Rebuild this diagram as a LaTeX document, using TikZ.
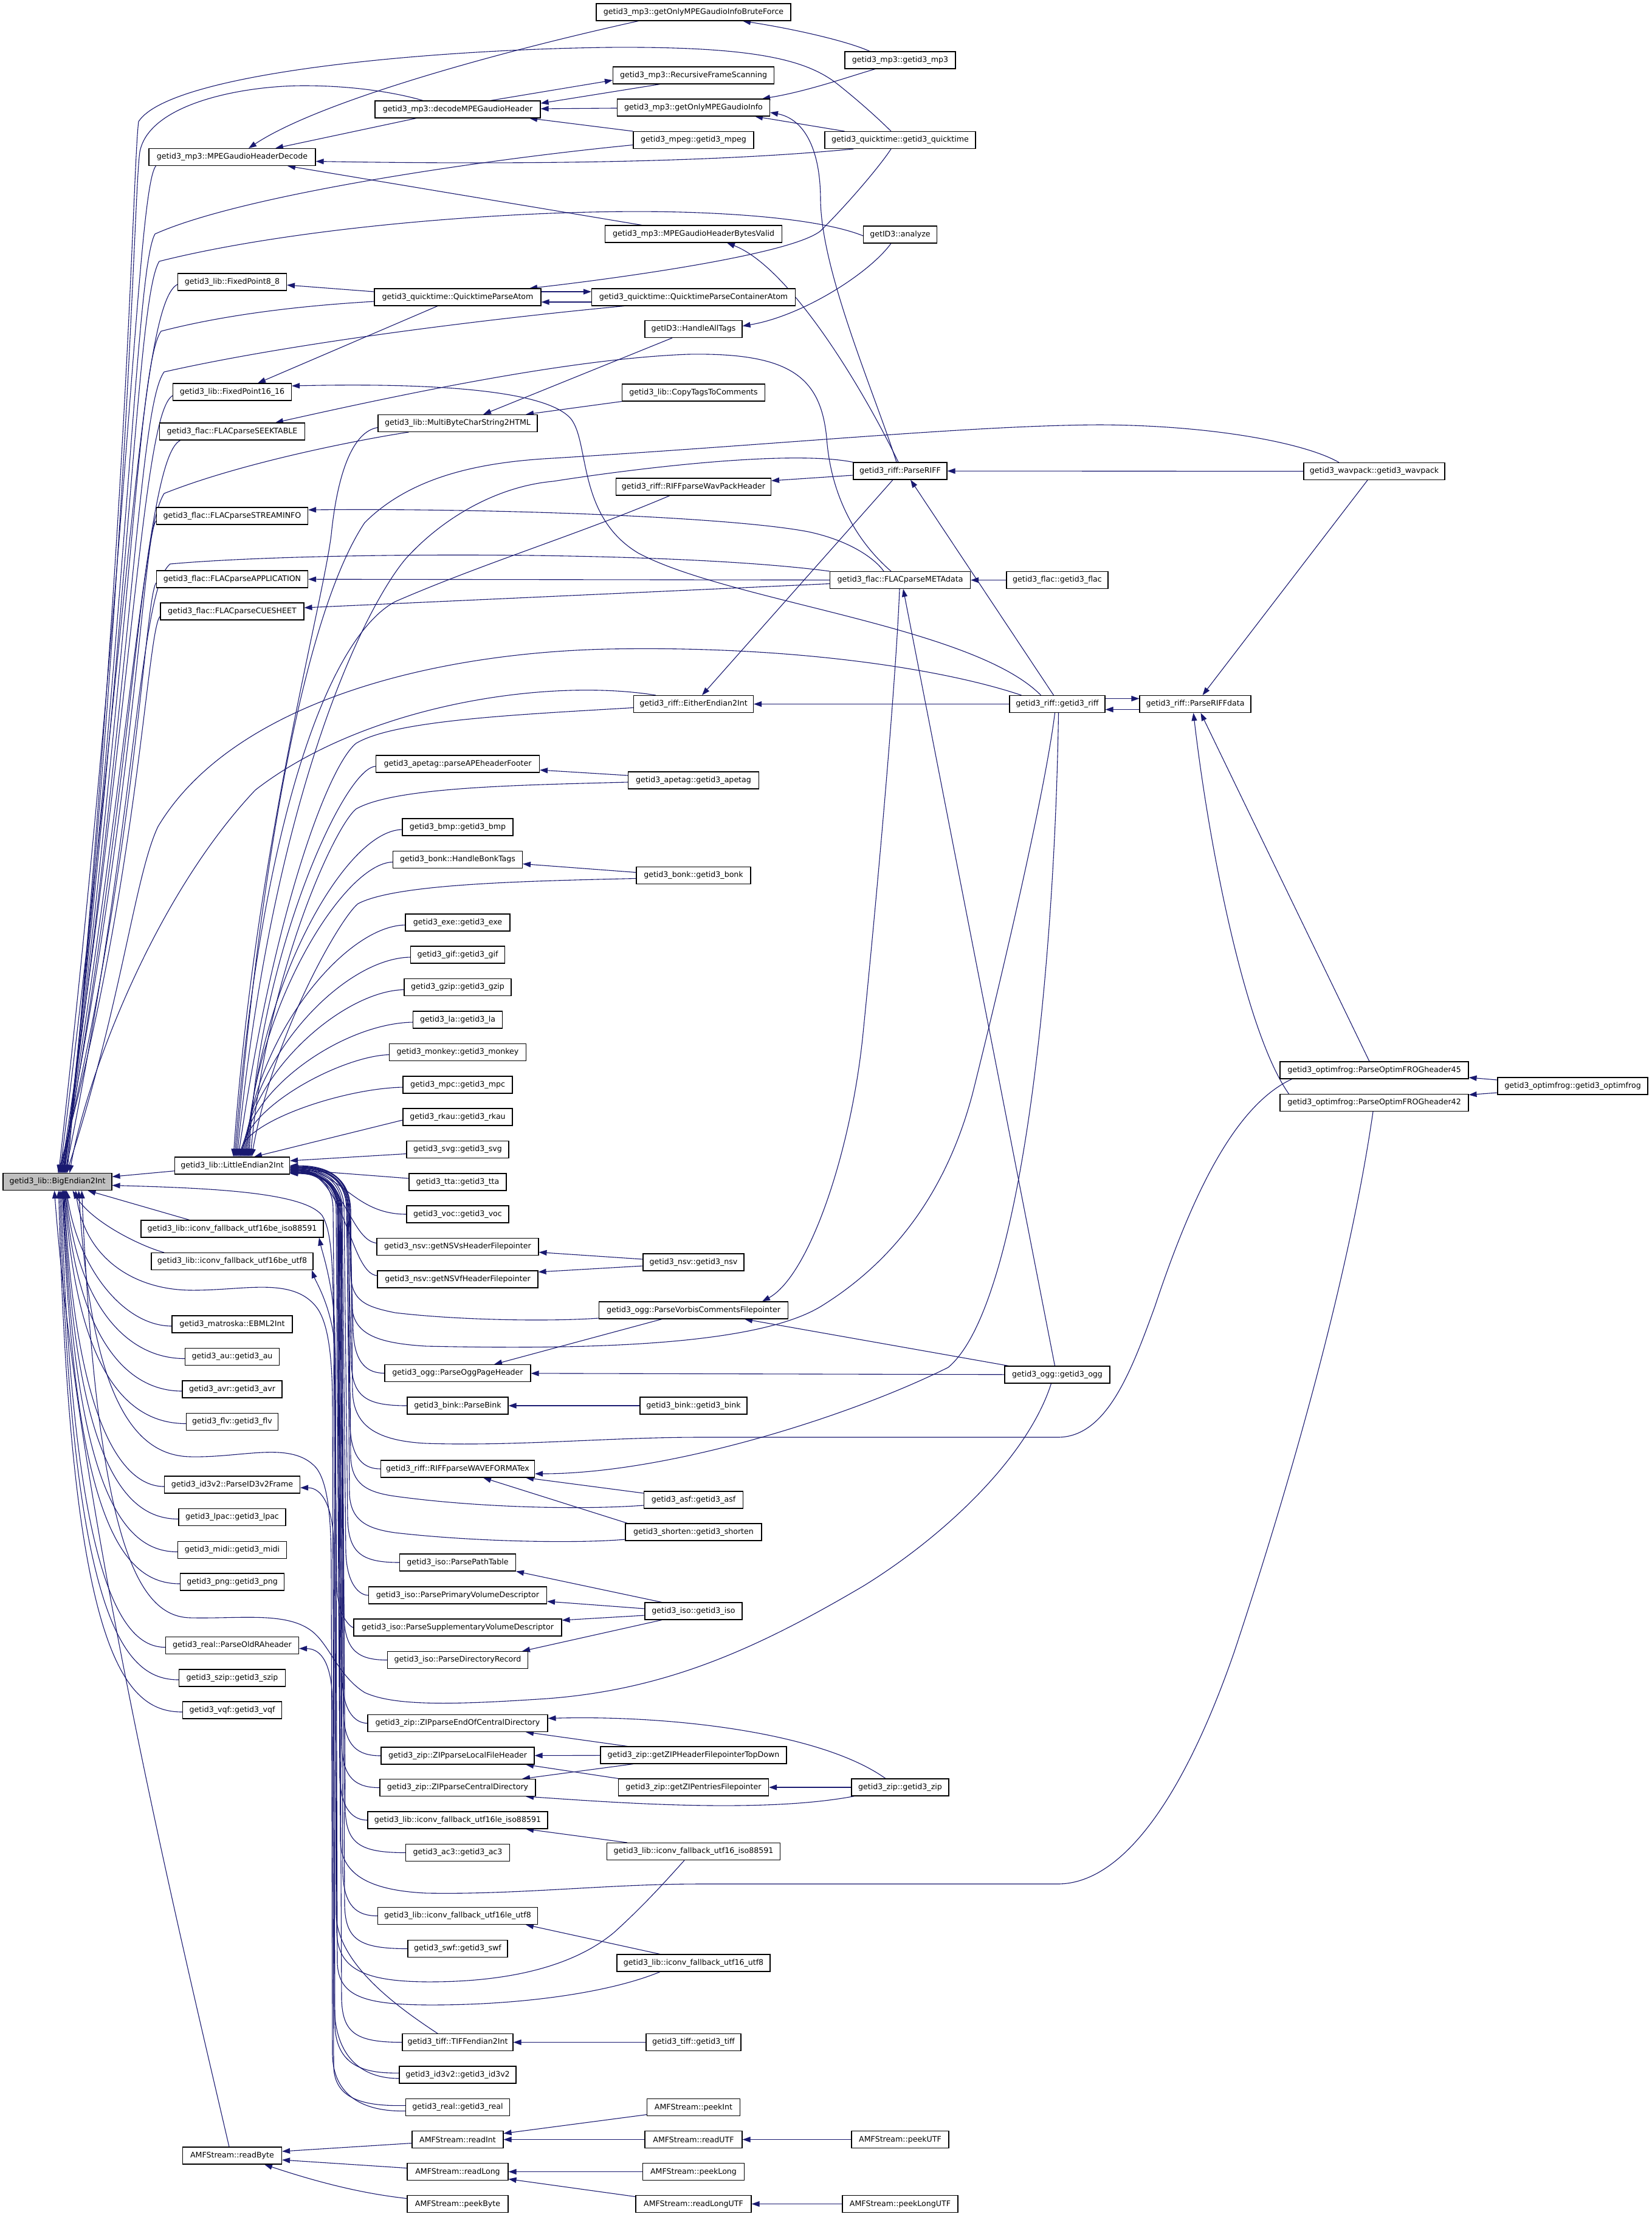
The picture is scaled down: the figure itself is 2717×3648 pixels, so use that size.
\documentclass[tikz,border=0pt]{standalone}
\usepackage{fontspec}
\newfontfamily\dvs{DejaVu Sans}
\usetikzlibrary{arrows.meta}
\definecolor{mblue}{RGB}{25,25,112}
\definecolor{gfill}{RGB}{191,191,191}
\pgfdeclarelayer{bg}
\pgfsetlayers{bg,main}
\tikzset{
  nd/.style={draw=black, line width=1.1pt, fill=white, rectangle, minimum height=28pt, inner sep=0pt, font=\dvs\fontsize{12.6}{15}\selectfont},
  edg/.style={draw=mblue, line width=1.1pt, arrows={Triangle[length=13pt,width=9pt]-}},
}
\newcommand{\LUp}[3]{\draw[edg] ([xshift=#3pt]little.north) .. controls ({395+#3},{(#2+1904)/2}) and (565,{#2+6}) .. ([yshift=-4pt]#1.west);}
\newcommand{\LDn}[4]{\draw[edg] ([yshift=#4pt]little.east) .. controls ({#3-30},{1918-(#4)}) and (#3,{1940-(#4)}) .. (#3,1990) -- ({#3+6},{#2-70}) .. controls ({#3+8},{#2-15}) and ({#3+30},#2) .. (#1.west);}
\newcommand{\BDn}[3]{\draw[edg] ([xshift=#3pt]big.south) .. controls ({114+#3},{#2-90}) and (205,{#2+3}) .. ([yshift=-3pt]#1.west);}
\begin{document}
\begin{tikzpicture}[x=1pt,y=-1pt]
\useasboundingbox (0,0) rectangle (2717,3648);
% rank 0
\node[nd, fill=gfill, minimum width=179pt] (big) at (94.5,1944.5) {getid3\_lib::BigEndian2Int};
% rank 1
\node[nd, minimum width=274pt] (mhd) at (382,258.5) {getid3\_mp3::MPEGaudioHeaderDecode};
\node[nd, minimum width=179pt] (fp8) at (382,464) {getid3\_lib::FixedPoint8\_8};
\node[nd, minimum width=195pt] (fp16) at (382,645) {getid3\_lib::FixedPoint16\_16};
\node[nd, minimum width=239pt] (seek) at (382,710) {getid3\_flac::FLACparseSEEKTABLE};
\node[nd, minimum width=249pt] (stream) at (382,849) {getid3\_flac::FLACparseSTREAMINFO};
\node[nd, minimum width=249pt] (app) at (382,953) {getid3\_flac::FLACparseAPPLICATION};
\node[nd, minimum width=236pt] (cue) at (382,1006) {getid3\_flac::FLACparseCUESHEET};
\node[nd, minimum width=189pt] (little) at (382,1918) {getid3\_lib::LittleEndian2Int};
\node[nd, minimum width=300pt] (ic16bi) at (382,2022) {getid3\_lib::iconv\_fallback\_utf16be\_iso88591};
\node[nd, minimum width=266pt] (ic16bu) at (382,2075.5) {getid3\_lib::iconv\_fallback\_utf16be\_utf8};
\node[nd, minimum width=198pt] (ebml) at (382,2179) {getid3\_matroska::EBML2Int};
\node[nd, minimum width=155pt] (au) at (382,2232.5) {getid3\_au::getid3\_au};
\node[nd, minimum width=164pt] (avr) at (382,2286) {getid3\_avr::getid3\_avr};
\node[nd, minimum width=151pt] (flv) at (382,2339.5) {getid3\_flv::getid3\_flv};
\node[nd, minimum width=223pt] (id3f) at (382,2443) {getid3\_id3v2::ParseID3v2Frame};
\node[nd, minimum width=176pt] (lpac) at (382,2496.5) {getid3\_lpac::getid3\_lpac};
\node[nd, minimum width=179pt] (midi) at (382,2550.5) {getid3\_midi::getid3\_midi};
\node[nd, minimum width=171pt] (png) at (382,2603) {getid3\_png::getid3\_png};
\node[nd, minimum width=219pt] (ra) at (382,2707.5) {getid3\_real::ParseOldRAheader};
\node[nd, minimum width=175pt] (szip) at (382,2761) {getid3\_szip::getid3\_szip};
\node[nd, minimum width=163pt] (vqf) at (382,2814) {getid3\_vqf::getid3\_vqf};
\node[nd, minimum width=163pt] (rbyte) at (382,3547) {AMFStream::readByte};
% rank 2
\node[nd, minimum width=272pt] (dec) at (753,180) {getid3\_mp3::decodeMPEGaudioHeader};
\node[nd, minimum width=274pt] (qpa) at (753,489) {getid3\_quicktime::QuicktimeParseAtom};
\node[nd, minimum width=262pt] (mb) at (753,696.5) {getid3\_lib::MultiByteCharString2HTML};
\node[nd, minimum width=269pt] (apef) at (753,1257) {getid3\_apetag::parseAPEheaderFooter};
\node[nd, minimum width=182pt] (bmp) at (753,1361) {getid3\_bmp::getid3\_bmp};
\node[nd, minimum width=213pt] (hbt) at (753,1414.5) {getid3\_bonk::HandleBonkTags};
\node[nd, minimum width=172pt] (exe) at (753,1518) {getid3\_exe::getid3\_exe};
\node[nd, minimum width=155pt] (gif) at (753,1571) {getid3\_gif::getid3\_gif};
\node[nd, minimum width=176pt] (gzip) at (753,1624.5) {getid3\_gzip::getid3\_gzip};
\node[nd, minimum width=147pt] (la) at (753,1678) {getid3\_la::getid3\_la};
\node[nd, minimum width=225pt] (monkey) at (753,1731.5) {getid3\_monkey::getid3\_monkey};
\node[nd, minimum width=180pt] (mpc) at (753,1785) {getid3\_mpc::getid3\_mpc};
\node[nd, minimum width=180pt] (rkau) at (753,1838) {getid3\_rkau::getid3\_rkau};
\node[nd, minimum width=168pt] (svg) at (753,1891.5) {getid3\_svg::getid3\_svg};
\node[nd, minimum width=160pt] (tta) at (753,1945) {getid3\_tta::getid3\_tta};
\node[nd, minimum width=168pt] (voc) at (753,1998) {getid3\_voc::getid3\_voc};
\node[nd, minimum width=266pt] (nsvs) at (753,2051.5) {getid3\_nsv::getNSVsHeaderFilepointer};
\node[nd, minimum width=264pt] (nsvf) at (753,2105) {getid3\_nsv::getNSVfHeaderFilepointer};
\node[nd, minimum width=240pt] (oggp) at (753,2259.5) {getid3\_ogg::ParseOggPageHeader};
\node[nd, minimum width=166pt] (bink) at (753,2313) {getid3\_bink::ParseBink};
\node[nd, minimum width=253pt] (wfx) at (753,2417) {getid3\_riff::RIFFparseWAVEFORMATex};
\node[nd, minimum width=191pt] (ppt) at (753,2571) {getid3\_iso::ParsePathTable};
\node[nd, minimum width=293pt] (ppvd) at (753,2625) {getid3\_iso::ParsePrimaryVolumeDescriptor};
\node[nd, minimum width=342pt] (psvd) at (753,2678) {getid3\_iso::ParseSupplementaryVolumeDescriptor};
\node[nd, minimum width=231pt] (pdr) at (753,2731.5) {getid3\_iso::ParseDirectoryRecord};
\node[nd, minimum width=296pt] (zeocd) at (753,2835.5) {getid3\_zip::ZIPparseEndOfCentralDirectory};
\node[nd, minimum width=252pt] (zlfh) at (753,2889) {getid3\_zip::ZIPparseLocalFileHeader};
\node[nd, minimum width=256pt] (zcd) at (753,2941.5) {getid3\_zip::ZIPparseCentralDirectory};
\node[nd, minimum width=296pt] (ic16li) at (753,2995) {getid3\_lib::iconv\_fallback\_utf16le\_iso88591};
\node[nd, minimum width=171pt] (ac3) at (753,3048.5) {getid3\_ac3::getid3\_ac3};
\node[nd, minimum width=263pt] (ic16lu) at (753,3152.5) {getid3\_lib::iconv\_fallback\_utf16le\_utf8};
\node[nd, minimum width=164pt] (swf) at (753,3206.5) {getid3\_swf::getid3\_swf};
\node[nd, minimum width=182pt] (tiffe) at (753,3360.5) {getid3\_tiff::TIFFendian2Int};
\node[nd, minimum width=192pt] (id3v2) at (753,3414) {getid3\_id3v2::getid3\_id3v2};
\node[nd, minimum width=171pt] (real) at (753,3467.5) {getid3\_real::getid3\_real};
\node[nd, minimum width=150pt] (rint) at (753,3520.5) {AMFStream::readInt};
\node[nd, minimum width=166pt] (rlong) at (753,3573.5) {AMFStream::readLong};
\node[nd, minimum width=166pt] (pbyte) at (753,3626.5) {AMFStream::peekByte};
% rank 3
\node[nd, minimum width=320pt] (brute) at (1141,20) {getid3\_mp3::getOnlyMPEGaudioInfoBruteForce};
\node[nd, minimum width=265pt] (rfs) at (1141,124) {getid3\_mp3::RecursiveFrameScanning};
\node[nd, minimum width=251pt] (gomi) at (1141,177) {getid3\_mp3::getOnlyMPEGaudioInfo};
\node[nd, minimum width=198pt] (mpeg) at (1141,230.5) {getid3\_mpeg::getid3\_mpeg};
\node[nd, minimum width=291pt] (mhbv) at (1141,385) {getid3\_mp3::MPEGaudioHeaderBytesValid};
\node[nd, minimum width=335pt] (qpca) at (1141,489) {getid3\_quicktime::QuicktimeParseContainerAtom};
\node[nd, minimum width=160pt] (hat) at (1141,541.5) {getID3::HandleAllTags};
\node[nd, minimum width=235pt] (ctc) at (1141,646) {getid3\_lib::CopyTagsToComments};
\node[nd, minimum width=255pt] (wvph) at (1141,801) {getid3\_riff::RIFFparseWavPackHeader};
\node[nd, minimum width=197pt] (either) at (1141,1158.5) {getid3\_riff::EitherEndian2Int};
\node[nd, minimum width=215pt] (apetag) at (1141,1284) {getid3\_apetag::getid3\_apetag};
\node[nd, minimum width=188pt] (bonk) at (1141,1440.5) {getid3\_bonk::getid3\_bonk};
\node[nd, minimum width=166pt] (nsv) at (1141,2077) {getid3\_nsv::getid3\_nsv};
\node[nd, minimum width=311pt] (vorbis) at (1141,2156) {getid3\_ogg::ParseVorbisCommentsFilepointer};
\node[nd, minimum width=176pt] (gbink) at (1141,2313) {getid3\_bink::getid3\_bink};
\node[nd, minimum width=163pt] (asf) at (1141,2468) {getid3\_asf::getid3\_asf};
\node[nd, minimum width=224pt] (shorten) at (1141,2521) {getid3\_shorten::getid3\_shorten};
\node[nd, minimum width=160pt] (iso) at (1141,2651) {getid3\_iso::getid3\_iso};
\node[nd, minimum width=306pt] (ztop) at (1141,2888) {getid3\_zip::getZIPHeaderFilepointerTopDown};
\node[nd, minimum width=247pt] (zent) at (1141,2941) {getid3\_zip::getZIPentriesFilepointer};
\node[nd, minimum width=285pt] (ic16i) at (1141,3046.5) {getid3\_lib::iconv\_fallback\_utf16\_iso88591};
\node[nd, minimum width=252pt] (ic16u) at (1141,3230) {getid3\_lib::iconv\_fallback\_utf16\_utf8};
\node[nd, minimum width=156pt] (tiff) at (1141,3360.5) {getid3\_tiff::getid3\_tiff};
\node[nd, minimum width=153pt] (pint) at (1141,3467.5) {AMFStream::peekInt};
\node[nd, minimum width=160pt] (rutf) at (1141,3520.5) {AMFStream::readUTF};
\node[nd, minimum width=167pt] (plong) at (1141,3573.5) {AMFStream::peekLong};
\node[nd, minimum width=190pt] (rlutf) at (1141,3626.5) {AMFStream::readLongUTF};
% rank 4
\node[nd, minimum width=182pt] (mp3) at (1481,99) {getid3\_mp3::getid3\_mp3};
\node[nd, minimum width=248pt] (qt) at (1481,230.5) {getid3\_quicktime::getid3\_quicktime};
\node[nd, minimum width=121pt] (analyze) at (1481,386) {getID3::analyze};
\node[nd, minimum width=154pt] (parseriff) at (1481,775) {getid3\_riff::ParseRIFF};
\node[nd, minimum width=231pt] (meta) at (1481,954.5) {getid3\_flac::FLACparseMETAdata};
\node[nd, minimum width=160pt] (zip) at (1481,2941) {getid3\_zip::getid3\_zip};
\node[nd, minimum width=160pt] (putf) at (1481,3520.5) {AMFStream::peekUTF};
\node[nd, minimum width=190pt] (plutf) at (1481,3626.5) {AMFStream::peekLongUTF};
% rank 5..8
\node[nd, minimum width=167pt] (flac) at (1739.5,954.5) {getid3\_flac::getid3\_flac};
\node[nd, minimum width=157pt] (riff) at (1739.5,1158.5) {getid3\_riff::getid3\_riff};
\node[nd, minimum width=173pt] (ogg) at (1739.5,2262) {getid3\_ogg::getid3\_ogg};
\node[nd, minimum width=183pt] (prd) at (1966.5,1158.5) {getid3\_riff::ParseRIFFdata};
\node[nd, minimum width=232pt] (wavpack) at (2261,775.5) {getid3\_wavpack::getid3\_wavpack};
\node[nd, minimum width=310pt] (of45) at (2261,1761) {getid3\_optimfrog::ParseOptimFROGheader45};
\node[nd, minimum width=310pt] (of42) at (2261,1814.5) {getid3\_optimfrog::ParseOptimFROGheader42};
\node[nd, minimum width=247pt] (optimfrog) at (2587.5,1787) {getid3\_optimfrog::getid3\_optimfrog};

\begin{pgfonlayer}{bg}
% ---- BigEndian2Int, upward fan
\draw[edg] ([xshift=2pt]big.north) .. controls (212,900) and (226,310) .. ([xshift=12pt]mhd.south west);
\draw[edg] ([xshift=4pt]big.north) .. controls (216,1000) and (230,500) .. ([yshift=-4pt]fp8.west);
\draw[edg] ([xshift=6pt]big.north) .. controls (220,1150) and (234,680) .. ([yshift=-6pt]fp16.west);
\draw[edg] ([xshift=7pt]big.north) .. controls (222,1200) and (240,750) .. ([xshift=35pt]seek.south west);
\draw[edg] ([xshift=5pt]big.north) .. controls (224,1300) and (236,880) .. ([yshift=-8pt]stream.west);
\draw[edg] ([xshift=3pt]big.north) .. controls (226,1400) and (238,985) .. ([yshift=-6pt]app.west);
\draw[edg] ([xshift=1pt]big.north) .. controls (228,1450) and (242,1035) .. ([yshift=-8pt]cue.west);
\draw[edg] ([xshift=16pt]big.north) .. controls (214,800) and (218,280) .. (228,200) .. controls (280,120) and (700,82) .. (1000,78) .. controls (1250,76) and (1330,100) .. (1380,140) .. controls (1420,172) and (1450,200) .. ([xshift=-15pt]qt.north);
\draw[edg] ([xshift=14pt]big.north) .. controls (213,900) and (220,320) .. (230,250) .. controls (245,170) and (400,141) .. (500,141) .. controls (580,141) and (650,152) .. ([xshift=-57pt]dec.north);
\draw[edg] ([xshift=12pt]big.north) .. controls (214,950) and (224,440) .. (255,385) .. controls (400,320) and (800,262) .. ([yshift=-8pt]mpeg.west);
\draw[edg] ([xshift=11pt]big.north) .. controls (215,1000) and (225,490) .. (262,430) .. controls (500,370) and (900,340) .. (1150,350) .. controls (1300,356) and (1380,372) .. ([yshift=-2pt]analyze.west);
\draw[edg] ([xshift=10pt]big.north) .. controls (218,1050) and (226,600) .. (265,545) .. controls (400,510) and (550,500) .. ([yshift=-7pt]qpa.west);
\draw[edg] ([xshift=9pt]big.north) .. controls (220,1100) and (228,670) .. (270,612) .. controls (500,560) and (850,520) .. ([xshift=54pt]qpca.south west);
\draw[edg] ([xshift=8pt]big.north) .. controls (222,1250) and (228,880) .. (270,812) .. controls (400,760) and (600,722) .. ([xshift=51pt]mb.south west);
\draw[edg] ([xshift=13pt]big.north) .. controls (225,1350) and (228,970) .. (280,928) .. controls (500,908) and (1100,905) .. (meta.north west);
\draw[edg] ([xshift=15pt]big.north) .. controls (200,1650) and (222,1440) .. (260,1360) .. controls (380,1160) and (700,1075) .. (1000,1068) .. controls (1300,1062) and (1550,1100) .. ([xshift=20pt]riff.north west);
\draw[edg] ([xshift=20pt]big.north) .. controls (140,1780) and (250,1480) .. (420,1300) .. controls (600,1160) and (900,1115) .. ([xshift=37pt]either.north west);
% ---- BigEndian2Int, right and downward
\draw[edg] (big) -- (little);
\draw[edg] ([xshift=50pt]big.south) -- ([xshift=-70pt]ic16bi.north);
\draw[edg] ([xshift=25pt]big.south) .. controls (150,2010) and (230,2050) .. ([xshift=-112pt]ic16bu.north);
\BDn{ebml}{2179}{15}
\BDn{au}{2232.5}{14}
\BDn{avr}{2286}{13}
\BDn{flv}{2339.5}{12}
\BDn{id3f}{2443}{11}
\BDn{lpac}{2496.5}{10}
\BDn{midi}{2550.5}{9}
\BDn{png}{2603}{8}
\BDn{ra}{2707.5}{6}
\BDn{szip}{2761}{4}
\BDn{vqf}{2814}{2}
\draw[edg] ([xshift=-5pt]big.south) .. controls (130,2500) and (300,3200) .. ([xshift=-5pt]rbyte.north);
\draw[edg] ([yshift=-6pt]big.east) .. controls (350,1955) and (500,1962) .. (530,2000) .. controls (545,2025) and (548,2070) .. (549,2200) -- (553,3150) .. controls (555,3230) and (650,3300) .. ([xshift=-33pt]tiffe.north);
\draw[edg] ([xshift=30pt]big.south) .. controls (140,2070) and (220,2122) .. (313,2123) .. controls (400,2124) and (480,2100) .. (520,2150) .. controls (540,2175) and (546,2230) .. (547,2300) -- (550,3300) .. controls (551,3390) and (600,3420) .. ([yshift=-6pt]id3v2.west);
\draw[edg] ([xshift=35pt]big.south) .. controls (150,2300) and (220,2395) .. (313,2397) .. controls (400,2399) and (480,2370) .. (520,2415) .. controls (540,2440) and (545,2500) .. (545,2580) -- (547,3380) .. controls (548,3450) and (600,3475) .. ([yshift=-6pt]real.west);
\draw[edg] ([xshift=40pt]big.south) .. controls (160,2550) and (230,2660) .. (313,2662) .. controls (400,2664) and (480,2650) .. (520,2690) .. controls (545,2715) and (560,2760) .. (600,2785) .. controls (650,2808) and (750,2805) .. (900,2795) .. controls (1100,2780) and (1250,2710) .. (1420,2610) .. controls (1550,2530) and (1690,2400) .. ([xshift=-10pt]ogg.south);
% ---- LittleEndian2Int, upward
\draw[edg] ([xshift=2pt]little.north) .. controls (420,1400) and (530,1000) .. (545,880) .. controls (555,780) and (580,710) .. ([yshift=-7pt]mb.west);
\draw[edg] ([xshift=4pt]little.north) .. controls (430,1350) and (540,1050) .. (650,990) .. controls (800,925) and (950,880) .. ([xshift=89pt]wvph.south west);
\draw[edg] ([xshift=6pt]little.north) .. controls (440,1300) and (520,980) .. (600,860) .. controls (680,780) and (800,760) .. (910,754) .. controls (1300,730) and (1600,700) .. (1810,699) .. controls (2000,700) and (2150,730) .. ([xshift=-58pt]wavpack.north);
\draw[edg] ([xshift=8pt]little.north) .. controls (450,1300) and (600,1000) .. (667,920) .. controls (730,850) and (820,800) .. (910,792) .. controls (1050,770) and (1300,740) .. (parseriff.north west);
\draw[edg] ([xshift=10pt]little.north) .. controls (450,1500) and (540,1260) .. (586,1223) .. controls (650,1185) and (850,1176) .. ([yshift=-6pt]either.west);
\draw[edg] ([xshift=30pt]little.north) .. controls (440,1600) and (550,1360) .. (586,1331) .. controls (650,1295) and (850,1292) .. ([yshift=-3pt]apetag.west);
\draw[edg] ([xshift=32pt]little.north) .. controls (450,1700) and (560,1510) .. (589,1487) .. controls (650,1455) and (850,1450) .. ([yshift=-5pt]bonk.west);
\LUp{apef}{1257}{28}
\LUp{bmp}{1361}{26}
\LUp{hbt}{1414.5}{24}
\LUp{exe}{1518}{22}
\LUp{gif}{1571}{20}
\LUp{gzip}{1624.5}{18}
\LUp{la}{1678}{16}
\LUp{monkey}{1731.5}{14}
\LUp{mpc}{1785}{12}
\draw[edg] ([xshift=36pt]little.north) -- ([yshift=-5pt]rkau.west);
\draw[edg] ([yshift=8pt]little.east) -- ([yshift=-7pt]svg.west);
\draw[edg] ([yshift=-6pt]little.east) -- ([yshift=6pt]tta.west);
% ---- LittleEndian2Int, downward
\draw[edg] ([yshift=-6pt]little.east) .. controls (560,1924) and (580,1998) .. (voc.west);
\draw[edg] ([yshift=-7pt]little.east) .. controls (565,1925) and (575,2040) .. ([yshift=6pt]nsvs.west);
\draw[edg] ([yshift=-8pt]little.east) .. controls (568,1926) and (575,2095) .. ([yshift=6pt]nsvf.west);
\LDn{oggp}{2259.5}{575}{-2}
\LDn{bink}{2313}{572}{-3}
\LDn{wfx}{2417}{570}{-4}
\LDn{ppt}{2571}{566}{-5}
\LDn{ppvd}{2625}{563}{-6}
\LDn{psvd}{2678}{548}{-7}
\LDn{pdr}{2731.5}{560}{-8}
\LDn{zeocd}{2835.5}{557}{-9}
\LDn{zlfh}{2889}{559}{-10}
\LDn{zcd}{2941.5}{556}{-11}
\LDn{ic16li}{2995}{553}{-12}
\LDn{ac3}{3048.5}{562}{-13}
\LDn{ic16lu}{3152.5}{558}{-12}
\LDn{swf}{3206.5}{561}{-11}
\LDn{tiffe}{3360.5}{556}{-10}
\draw[edg] ([yshift=-1pt]little.east) .. controls (545,1919) and (572,1940) .. (574,1990) -- (577,2100) .. controls (580,2140) and (600,2150) .. (650,2160) .. controls (750,2172) and (900,2175) .. ([yshift=-13pt]vorbis.west);
\draw[edg] (little.east) .. controls (545,1918) and (573,1940) .. (576,1990) -- (579,2150) .. controls (582,2195) and (620,2210) .. (700,2215) .. controls (1000,2222) and (1250,2210) .. (1350,2150) .. controls (1480,2070) and (1560,1950) .. (1600,1800) .. controls (1650,1600) and (1720,1300) .. ([xshift=-4pt]riff.south);
\draw[edg] ([yshift=-2pt]little.east) .. controls (545,1920) and (575,1940) .. (577,1990) -- (580,2290) .. controls (582,2340) and (610,2370) .. (700,2375) .. controls (850,2380) and (1000,2365) .. (1150,2365) -- (1740,2365) .. controls (1820,2365) and (1860,2260) .. (1900,2150) .. controls (1960,1970) and (2030,1820) .. ([xshift=20pt]of45.south west);
\draw[edg] ([yshift=-3pt]little.east) .. controls (540,1921) and (571,1940) .. (573,1990) -- (577,2400) .. controls (580,2440) and (600,2455) .. (650,2462) .. controls (780,2480) and (950,2485) .. ([yshift=-9pt]asf.west);
\draw[edg] ([yshift=-4pt]little.east) .. controls (540,1922) and (569,1940) .. (571,1990) -- (575,2460) .. controls (578,2500) and (600,2515) .. (650,2522) .. controls (780,2537) and (950,2540) .. ([yshift=-12pt]shorten.west);
\draw[edg] ([yshift=-12pt]little.east) .. controls (530,1930) and (553,1950) .. (555,1990) -- (560,3030) .. controls (562,3080) and (600,3110) .. (700,3115) .. controls (850,3118) and (1000,3100) .. (1150,3100) -- (1740,3100) .. controls (1850,3100) and (1950,2950) .. (2030,2720) .. controls (2120,2450) and (2220,2100) .. ([xshift=-2pt]of42.south);
% ---- long bundle edges from rank 1 callees
\draw[edg] ([xshift=143pt]ic16bi.south) .. controls (530,2060) and (551,2120) .. (551,2200) -- (554,3180) .. controls (556,3240) and (600,3260) .. (700,3261) .. controls (850,3262) and (950,3230) .. (1010,3180) .. controls (1060,3135) and (1100,3090) .. ([xshift=-15pt]ic16i.south);
\draw[edg] ([xshift=131pt]ic16bu.south) .. controls (520,2110) and (552,2160) .. (552,2240) -- (555,3230) .. controls (557,3285) and (600,3298) .. (700,3299) .. controls (850,3300) and (1000,3280) .. ([xshift=-55pt]ic16u.south);
\draw[edg] ([yshift=-5pt]id3f.east) .. controls (530,2448) and (548,2480) .. (549,2540) -- (551,3330) .. controls (552,3400) and (600,3412) .. ([yshift=3pt]id3v2.west);
\draw[edg] ([yshift=-5pt]ra.east) .. controls (530,2713) and (546,2740) .. (547,2800) -- (549,3400) .. controls (550,3455) and (600,3466) .. ([yshift=3pt]real.west);
% ---- mp3 group
\draw[edg] ([xshift=27pt]mhd.north) .. controls (520,170) and (800,90) .. ([xshift=70pt]brute.south west);
\draw[edg] ([xshift=71pt]mhd.north) -- ([xshift=-68pt]dec.south);
\draw[edg] ([yshift=-7pt]mhd.east) .. controls (900,272) and (1200,265) .. ([xshift=48pt]qt.south west);
\draw[edg] ([xshift=91pt]mhd.south) -- ([xshift=61pt]mhbv.north west);
\draw[edg] ([yshift=10pt]dec.east) -- ([xshift=-55pt]rfs.south);
\draw[edg] ([yshift=-8pt]rfs.west) -- ([xshift=54pt]dec.north);
\draw[edg] (dec) -- (gomi);
\draw[edg] ([xshift=118pt]dec.south) -- (mpeg.north west);
\draw[edg] ([xshift=81pt]brute.south) .. controls (1320,50) and (1400,70) .. ([xshift=-50pt]mp3.north);
\draw[edg] ([xshift=113pt]gomi.north) .. controls (1330,150) and (1400,125) .. ([xshift=-41pt]mp3.south);
\draw[edg] ([xshift=101pt]gomi.south) -- ([xshift=33pt]qt.north west);
\draw[edg] ([yshift=-8pt]gomi.east) .. controls (1320,195) and (1350,240) .. (1350,330) .. controls (1352,450) and (1440,650) .. ([xshift=-6pt]parseriff.north);
\draw[edg] ([xshift=55pt]mhbv.south) .. controls (1300,440) and (1420,640) .. ([xshift=-3pt]parseriff.north);
% ---- quicktime group
\draw[edg] ([xshift=118pt]qpa.north) .. controls (1000,460) and (1300,420) .. (1350,380) .. controls (1400,330) and (1450,270) .. ([xshift=-15pt]qt.south);
\draw[edg] ([yshift=9pt]qpca.west) -- ([yshift=9pt]qpa.east);
\draw[edg] ([yshift=-8pt]qpa.east) -- ([yshift=-8pt]qpca.west);
\draw[edg] ([yshift=-5pt]fp8.east) -- ([yshift=9pt]qpa.west);
\draw[edg] ([xshift=42pt]fp16.north) -- ([xshift=-33pt]qpa.south);
\draw[edg] ([yshift=10pt]fp16.east) .. controls (700,630) and (900,640) .. (940,690) .. controls (970,730) and (950,850) .. (1050,910) .. controls (1200,990) and (1600,1030) .. ([xshift=-27pt]riff.north);
% ---- misc lib
\draw[edg] ([xshift=42pt]mb.north) -- ([xshift=-35pt]hat.south);
\draw[edg] ([xshift=112pt]mb.north) -- (ctc.south west);
\draw[edg] ([yshift=5pt]hat.east) .. controls (1320,520) and (1430,450) .. ([xshift=-15pt]analyze.south);
% ---- flac group
\draw[edg] ([xshift=71pt]seek.north) .. controls (700,640) and (950,590) .. (1132,583) .. controls (1300,580) and (1350,620) .. (1360,720) .. controls (1368,830) and (1420,900) .. ([xshift=-15pt]meta.north);
\draw[edg] ([yshift=10pt]stream.east) .. controls (800,836) and (1200,850) .. (1330,875) .. controls (1400,890) and (1440,920) .. ([xshift=-27pt]meta.north);
\draw[edg] (app) -- (meta);
\draw[edg] ([yshift=6pt]cue.east) -- ([yshift=-6pt]meta.west);
\draw[edg] (meta) -- (flac);
\draw[edg] ([xshift=5pt]meta.south) -- ([xshift=-4pt]ogg.north);
% ---- riff group
\draw[edg] ([xshift=14pt]either.north) -- ([xshift=-12pt]parseriff.south);
\draw[edg] (either) -- (riff);
\draw[edg] ([xshift=17pt]parseriff.south) -- ([xshift=-6pt]riff.north);
\draw[edg] (parseriff) -- (wavpack);
\draw[edg] ([yshift=10pt]wvph.east) -- ([yshift=-7pt]parseriff.west);
\draw[edg] ([yshift=9pt]prd.west) -- ([yshift=9pt]riff.east);
\draw[edg] ([yshift=-9pt]riff.east) -- ([yshift=-9pt]prd.west);
\draw[edg] ([xshift=12pt]prd.north) -- ([xshift=-11pt]wavpack.south);
\draw[edg] ([xshift=9pt]prd.south) -- ([xshift=-8pt]of45.north);
\draw[edg] ([xshift=-3pt]prd.south) .. controls (1990,1400) and (2050,1700) .. ([xshift=15pt]of42.north west);
\draw[edg] ([yshift=-12pt]of45.east) -- ([yshift=10pt]optimfrog.west);
\draw[edg] ([yshift=13pt]of42.east) -- ([yshift=-11pt]optimfrog.west);
\draw[edg] ([yshift=-8pt]wfx.east) .. controls (1100,2425) and (1400,2330) .. (1560,2250) .. controls (1680,2150) and (1735,1600) .. ([xshift=2pt]riff.south);
\draw[edg] ([xshift=112pt]wfx.south) -- ([yshift=11pt]asf.west);
\draw[edg] ([xshift=42pt]wfx.south) -- ([xshift=4pt]shorten.north west);
% ---- apetag, bonk, nsv, ogg, bink
\draw[edg] ([yshift=-10pt]apef.east) -- ([yshift=8pt]apetag.west);
\draw[edg] ([yshift=-7pt]hbt.east) -- ([yshift=5pt]bonk.west);
\draw[edg] ([yshift=-9pt]nsvs.east) -- ([yshift=5pt]nsv.west);
\draw[edg] ([yshift=12pt]nsvf.east) -- ([yshift=-6pt]nsv.west);
\draw[edg] ([xshift=60pt]oggp.north) -- ([xshift=-52pt]vorbis.south);
\draw[edg] (oggp) -- (ogg);
\draw[edg] ([xshift=84pt]vorbis.south) -- ([xshift=-80pt]ogg.north);
\draw[edg] ([xshift=113pt]vorbis.north) .. controls (1330,2100) and (1400,1900) .. (1420,1700) .. controls (1450,1400) and (1475,1100) .. ([xshift=-1pt]meta.south);
\draw[edg] (bink) -- (gbink);
% ---- iso group
\draw[edg] ([xshift=96pt]ppt.south) -- ([xshift=-52pt]iso.north);
\draw[edg] ([yshift=-10pt]ppvd.east) -- ([yshift=4pt]iso.west);
\draw[edg] ([yshift=12pt]psvd.east) -- ([yshift=-7pt]iso.west);
\draw[edg] ([xshift=106pt]pdr.north) -- ([xshift=-52pt]iso.south);
% ---- zip group
\draw[edg] ([yshift=8pt]zeocd.east) .. controls (1100,2822) and (1350,2850) .. ([xshift=-24pt]zip.north);
\draw[edg] ([xshift=112pt]zeocd.south) -- ([xshift=45pt]ztop.north west);
\draw[edg] (zlfh) -- (ztop);
\draw[edg] ([xshift=112pt]zlfh.south) -- (zent.north west);
\draw[edg] ([xshift=106pt]zcd.north) -- ([xshift=-99pt]ztop.south);
\draw[edg] ([xshift=112pt]zcd.south) .. controls (1000,2965) and (1250,2985) .. ([xshift=5pt]zip.south west);
\draw[edg] (zent) -- (zip);
% ---- iconv group
\draw[edg] ([xshift=112pt]ic16li.south) -- ([xshift=34pt]ic16i.north west);
\draw[edg] ([xshift=112pt]ic16lu.south) -- ([xshift=-55pt]ic16u.north);
% ---- tiff
\draw[edg] (tiffe) -- (tiff);
% ---- AMFStream
\draw[edg] ([yshift=7pt]rbyte.east) -- ([yshift=-6pt]rint.west);
\draw[edg] ([yshift=-7pt]rbyte.east) -- ([yshift=6pt]rlong.west);
\draw[edg] ([xshift=53pt]rbyte.south) .. controls (550,3600) and (620,3612) .. ([yshift=9pt]pbyte.west);
\draw[edg] ([yshift=10pt]rint.east) -- ([yshift=-12pt]pint.west);
\draw[edg] (rint) -- (rutf);
\draw[edg] (rutf) -- (putf);
\draw[edg] (rlong) -- (plong);
\draw[edg] ([yshift=-12pt]rlong.east) -- ([yshift=12pt]rlutf.west);
\draw[edg] (rlutf) -- (plutf);
\end{pgfonlayer}
\end{tikzpicture}
\end{document}
